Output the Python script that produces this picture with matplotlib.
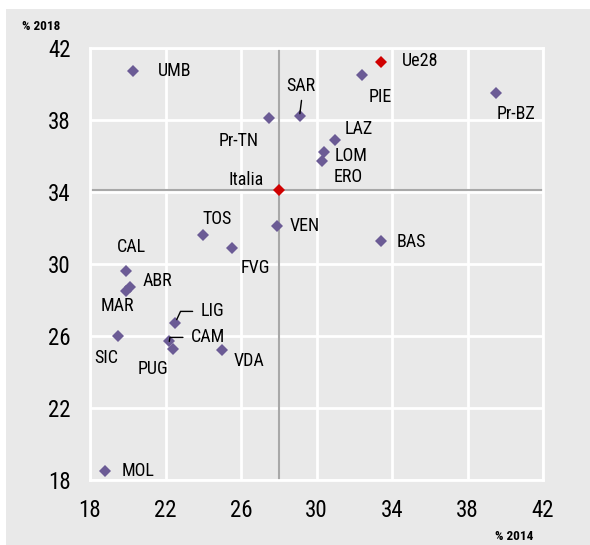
import matplotlib
matplotlib.use("Agg")
import matplotlib.pyplot as plt
from matplotlib.patches import Rectangle

plt.rcParams['font.family'] = ['Roboto Condensed', 'DejaVu Sans']

# data: % 2014 (x) vs % 2018 (y)
names = ["UMB", "SAR", "Pr-TN", "PIE", "Pr-BZ", "LAZ", "LOM", "ERO", "TOS", "VEN",
         "FVG", "CAL", "BAS", "ABR", "MAR", "LIG", "CAM", "SIC", "PUG", "VDA", "MOL"]
x2014 = [20.3, 29.1, 27.5, 32.4, 39.5, 31.0, 30.4, 30.3, 24.0, 27.9,
         25.5, 19.9, 33.4, 20.1, 19.9, 22.5, 22.2, 19.5, 22.4, 25.0, 18.8]
y2018 = [40.7, 38.2, 38.1, 40.5, 39.5, 36.9, 36.2, 35.7, 31.6, 32.1,
         30.9, 29.6, 31.3, 28.7, 28.5, 26.7, 25.7, 26.0, 25.3, 25.2, 18.5]

ref_names = ["Italia", "Ue28"]
ref_x = [28.0, 33.4]
ref_y = [34.1, 41.2]

ticks = [18, 22, 26, 30, 34, 38, 42]

# label placement (offset in pixels, alignment)
label_pos = {
    "UMB": (24, 0, "left"), "SAR": (1, 30, "center"), "Pr-TN": (-31, -23, "center"),
    "PIE": (18, -22, "center"), "Pr-BZ": (20, -21, "center"), "LAZ": (9, 11, "left"),
    "LOM": (11, -4, "left"), "ERO": (11, -16, "left"), "TOS": (14, 16, "center"),
    "VEN": (13, 0, "left"), "FVG": (24, -20, "center"), "CAL": (6, 24, "center"),
    "BAS": (16, -1, "left"), "ABR": (13, 6, "left"), "MAR": (-8, -15, "center"),
    "LIG": (26, 12, "left"), "CAM": (22, 4, "left"), "SIC": (-12, -22, "center"),
    "PUG": (-20, -20, "center"), "VDA": (12, -11, "left"), "MOL": (17, 0, "left"),
    "Italia": (-33, 10, "center"), "Ue28": (21, 1, "left"),
}
leaders = {
    "LIG": dict(arrowstyle="-", color="black", lw=1, shrinkA=4, shrinkB=3, relpos=(0, 0.5),
                connectionstyle="angle,angleA=0,angleB=65,rad=0"),
    "CAM": dict(arrowstyle="-", color="black", lw=1, shrinkA=4, shrinkB=0, relpos=(0, 0.5),
                connectionstyle="angle,angleA=0,angleB=80,rad=0"),
}

bg = "#e9e9e9"
purple = "#6b5b95"
red = "#d00000"

fig = plt.figure(figsize=(5.9, 5.45), dpi=100)
fig.patches.append(Rectangle((6 / 590, 0), 1, 1 - 9 / 545, transform=fig.transFigure,
                             facecolor=bg, edgecolor="none", zorder=-10))
ax = fig.add_axes([90 / 590, 65 / 545, 453 / 590, 432 / 545])
ax.set_facecolor(bg)

ax.set_xlim(18, 42)
ax.set_ylim(18, 42)
ax.set_xticks(ticks)
ax.set_yticks(ticks)
ax.grid(True, color="white", lw=2)
ax.set_axisbelow(True)
for s in ax.spines.values():
    s.set_color("white")
    s.set_linewidth(2)
ax.tick_params(length=0, pad=14, labelsize=16.5)

ax.axvline(ref_x[0], color="#a8a8a8", lw=1.5, zorder=1)
ax.axhline(ref_y[0], color="#a8a8a8", lw=1.5, zorder=1)

ax.plot(x2014, y2018, "D", color=purple, markersize=6, markeredgewidth=0, zorder=3)
ax.plot(ref_x, ref_y, "D", color=red, markersize=6, markeredgewidth=0, zorder=3)

for n, xv, yv in zip(names + ref_names, x2014 + ref_x, y2018 + ref_y):
    dx, dy, ha = label_pos[n]
    ax.annotate(n, (xv, yv), xytext=(dx, dy), textcoords="offset pixels",
                ha=ha, va="center", fontsize=13, arrowprops=leaders.get(n), zorder=4)

# SAR leader line
i = names.index("SAR")
ax.annotate("", (x2014[i], y2018[i]), xytext=(2, 16), textcoords="offset pixels",
            arrowprops=dict(arrowstyle="-", color="black", lw=1, shrinkA=0, shrinkB=2))

fig.text(22 / 590, 1 - 27 / 545, "% 2018", fontsize=9.5, fontweight="bold", va="center")
fig.text(533 / 590, 1 - 537 / 545, "% 2014", fontsize=9.5, fontweight="bold",
         va="center", ha="right")

fig.savefig("out.png", dpi=100)
